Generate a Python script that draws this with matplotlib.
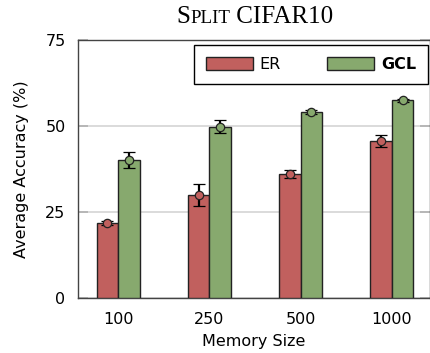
"""
plot.py  —  Split CIFAR10: average accuracy vs. memory size (ER vs GCL).
"""

import numpy as np
import matplotlib
matplotlib.use("Agg")
import matplotlib.pyplot as plt

# ── Data ──────────────────────────────────────────────────────────────────────
memory_sizes = ["100", "250", "500", "1000"]
er_acc  = [21.8, 29.9, 36.0, 45.7]
er_err  = [0.5, 3.1, 1.2, 1.8]
gcl_acc = [40.1, 49.8, 54.0, 57.4]
gcl_err = [2.4, 1.8, 0.6, 0.4]
y_ticks = [0, 25, 50, 75]

RED   = "#c1605e"
GREEN = "#87a96e"

# ── Figure ────────────────────────────────────────────────────────────────────
fig = plt.figure(figsize=(4.31, 3.53), dpi=100)
ax = fig.add_axes([0.181, 0.156, 0.817, 0.731])

x = np.arange(len(memory_sizes))
w = 0.235

for xs, vals, errs, col, lab in [
    (x - w / 2, er_acc, er_err, RED, "ER"),
    (x + w / 2, gcl_acc, gcl_err, GREEN, "GCL"),
]:
    ax.bar(xs, vals, width=w, color=col, edgecolor="#222222", linewidth=1.0,
           label=lab, zorder=3)
    ax.errorbar(xs, vals, yerr=errs, fmt="o", color="black", ecolor="black",
                elinewidth=1.6, capsize=4.5, capthick=1.2,
                markerfacecolor=col, markeredgecolor="#222222",
                markersize=6, markeredgewidth=0.9, zorder=4)

ax.set_xlim(-0.44, 3.42)
ax.set_ylim(0, 75)
ax.set_xticks(x)
ax.set_xticklabels(memory_sizes)
ax.set_yticks(y_ticks)

ax.yaxis.grid(True, color="#d4d4d4", linewidth=1.2, zorder=0)
ax.set_axisbelow(True)
ax.tick_params(axis="y", direction="in", length=7, width=1.2, color="#b0b0b0",
               right=True, labelsize=11.5, pad=9)
ax.tick_params(axis="x", length=0, labelsize=11.5, pad=10)
for s in ax.spines.values():
    s.set_color("#444444")
    s.set_linewidth(1.0)

ax.set_xlabel("Memory Size", fontsize=11.5, labelpad=5)
ax.set_ylabel("Average Accuracy (%)", fontsize=11.5, labelpad=12)

leg = ax.legend(loc="upper right", bbox_to_anchor=(0.994, 0.981), ncol=2,
                frameon=True, fancybox=False, edgecolor="black", framealpha=1,
                fontsize=11.5, handlelength=2.9, handleheight=0.9,
                columnspacing=2.9, handletextpad=0.45, borderaxespad=0,
                borderpad=0.75)
leg.get_frame().set_linewidth(1.0)
leg.get_texts()[1].set_fontweight("bold")

# ── Title in small caps (Times-like serif) ────────────────────────────────────
fig.canvas.draw()
renderer = fig.canvas.get_renderer()
pieces = [("S", 18), ("PLIT", 13.7), (" CIFAR10", 18)]
texts = []
for s, fs in pieces:
    t = fig.text(0, 0.935, s, fontsize=fs, family="Liberation Serif",
                 ha="left", va="baseline")
    texts.append(t)
widths = [t.get_window_extent(renderer).width / fig.bbox.width for t in texts]
xpos = 255 / 431 - sum(widths) / 2
for t, wd in zip(texts, widths):
    t.set_x(xpos)
    xpos += wd

fig.savefig("out.png", dpi=100)
